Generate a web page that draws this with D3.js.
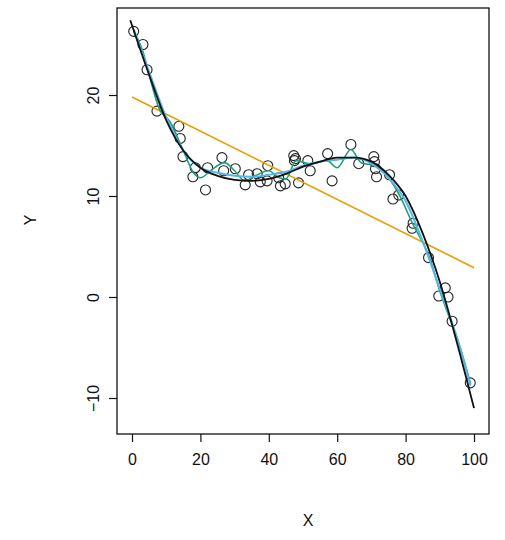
<!DOCTYPE html>
<html><head><meta charset="utf-8">
<script src="https://cdn.jsdelivr.net/npm/d3@7"></script>
<style>body{margin:0;background:#fff}</style></head>
<body><svg width="505" height="540"></svg>
<script>
// observed points
var px = [0.5,3.2,4.4,7.3,13.7,14.1,14.9,17.8,18.5,21.5,22.1,26.3,26.8,30.2,33.1,34.1,36.6,37.5,39.7,39.5,42.9,43.4,44.8,47.3,47.8,47.5,48.7,51.4,52.1,57.2,58.5,64.0,66.3,70.7,70.9,71.2,71.5,75.3,76.3,78.0,81.9,82.2,86.7,89.7,91.6,92.4,93.6,98.9];
var py = [26.3,25.0,22.5,18.4,16.9,15.7,13.9,11.9,12.8,10.6,12.8,13.8,12.5,12.7,11.1,12.1,12.2,11.4,13.0,11.5,11.8,11.0,11.2,14.0,13.7,13.5,11.3,13.5,12.5,14.2,11.5,15.1,13.2,13.9,13.4,12.7,11.9,12.1,9.7,10.1,6.8,7.3,3.9,0.1,0.9,0.0,-2.4,-8.5];
// fitted curves
var lineX = [0,100], lineY = [19.8,2.9];
var fitX = [-0.5,5,10,15,20,25,30,35,40,45,50,55,60,65,70,75,80,85,90,95,100];
var polyY = [27.4,22,17.5,14.5,12.8,12.0,11.6,11.5,11.7,12.2,12.9,13.4,13.8,13.8,13.4,12.1,10.0,6.3,1.5,-4.5,-11];
var smoothX = [0.5,5,10,15,20,25,30,35,40,45,50,55,60,65,70,75,80,85,90,95,99];
var smoothY = [26.5,22.3,17.8,14.5,12.8,12.3,12.0,11.9,12.1,12.4,13.0,13.4,13.6,13.8,13.2,11.8,9.5,5.5,0.8,-4.0,-8.8];
var wigX = [0.5,3,5,8,11,15,18,20,23,27,30,33,36,40,43,45,48,52,57,60,64,67,71,75,78,82,87,90,93,95,99];
var wigY = [26.3,24.5,22,18.6,17.4,14.5,12.3,11.8,12.5,13.3,12.5,11.5,12.0,12.5,11.8,11.7,13.5,13.2,13.5,12.8,14.6,13.3,13.0,11.8,10.2,7.3,3.9,0.6,-2.2,-4.0,-8.6];
var xTicks = [0,20,40,60,80,100], yTicks = [-10,0,10,20];

var svg = d3.select("svg");
var x = d3.scaleLinear().domain([0,100]).range([132,474]);
var y = d3.scaleLinear().domain([-10,20]).range([398,95]);
var L = 117, R = 489, T = 8, B = 434;
var font = "Liberation Sans, Arial, sans-serif";

svg.append("rect").attr("x",L).attr("y",T).attr("width",R-L).attr("height",B-T)
  .attr("fill","none").attr("stroke","#111").attr("stroke-width",1.3);

var gx = svg.append("g").attr("transform","translate(0,"+B+")")
  .call(d3.axisBottom(x).tickValues(xTicks).tickSize(8).tickPadding(9));
var gy = svg.append("g").attr("transform","translate("+L+",0)")
  .call(d3.axisLeft(y).tickValues(yTicks).tickSize(8).tickPadding(9));
[gx,gy].forEach(function(g){
  g.select(".domain").remove();
  g.selectAll("line").attr("stroke","#111").attr("stroke-width",1.2);
  g.selectAll("text").attr("font-family",font).attr("font-size",16).attr("fill","#111");
});
gx.selectAll("text").attr("dy","0.9em");
gy.selectAll("text").attr("x",0).attr("dy","0.35em").attr("text-anchor","middle")
  .attr("transform","translate(-24,0) rotate(-90)");

svg.append("text").attr("x",(L+R)/2+5).attr("y",526).attr("text-anchor","middle")
  .attr("font-family",font).attr("font-size",16).attr("fill","#111").text("X");
svg.append("text").attr("transform","translate(36,220) rotate(-90)").attr("text-anchor","middle")
  .attr("font-family",font).attr("font-size",16).attr("fill","#111").text("Y");

var g = svg.append("g");
g.selectAll("circle").data(px).enter().append("circle")
  .attr("cx",function(d){return x(d);}).attr("cy",function(d,i){return y(py[i]);})
  .attr("r",5).attr("fill","none").attr("stroke","#222").attr("stroke-width",1.1);

function draw(xs,ys,col,w,curve){
  var line = d3.line().x(function(d){return x(d[0]);}).y(function(d){return y(d[1]);}).curve(curve);
  g.append("path").datum(d3.zip(xs,ys)).attr("d",line).attr("fill","none")
    .attr("stroke",col).attr("stroke-width",w);
}
draw(lineX,lineY,"#e69f00",1.6,d3.curveLinear);
draw(wigX,wigY,"#1b9e77",1.6,d3.curveMonotoneX);
draw(smoothX,smoothY,"#56b4e9",2,d3.curveMonotoneX);
draw(fitX,polyY,"#111",1.8,d3.curveMonotoneX);
</script></body></html>
